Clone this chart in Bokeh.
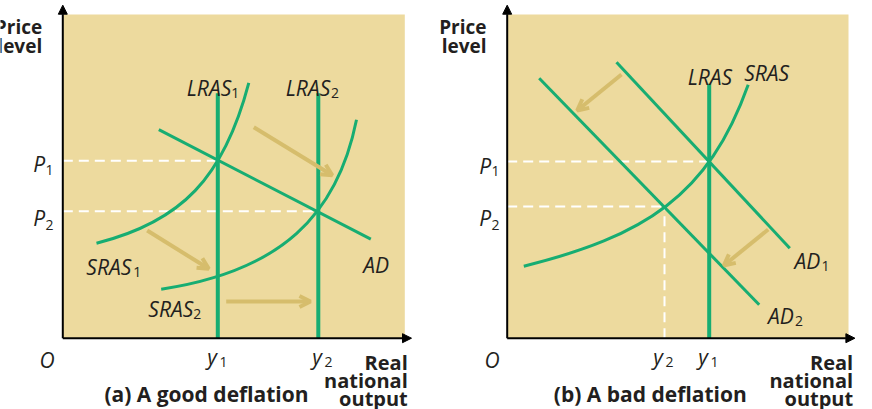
from bokeh.plotting import figure
from bokeh.layouts import row
from bokeh.models import Range1d, Arrow, NormalHead, OpenHead, ColumnDataSource
from bokeh.core.properties import value
from bokeh.embed import file_html
from bokeh.resources import INLINE

# ---------------- data (x = real national output, y = price level, O = origin) ----
# Panel (a): a good deflation
a_y1, a_y2 = 155.0, 255.5
a_p1, a_p2 = 177.5, 127.0
a_lras_top = 245.0
a_ad_x = [96, 308]
a_ad_y = [208.5, 99]
# SRAS curves as cubic Bezier: start, control 1, control 2, end
a_sras1_x = [33.7, 118.7, 161.0, 186.0]
a_sras1_y = [95.0, 116.3, 160.4, 255.4]
a_sras2_x = [98.4, 218.4, 274.7, 293.7]
a_sras2_y = [49.0, 67.0, 123.4, 218.4]
a_arrow_x0 = [191.0, 84.4, 163.4]
a_arrow_y0 = [211.0, 107.7, 36.7]
a_arrow_x1 = [269.5, 146.0, 247.7]
a_arrow_y1 = [163.0, 69.4, 36.7]

# Panel (b): a bad deflation
b_y1, b_y2 = 202.0, 157.3
b_p1, b_p2 = 176.7, 131.7
b_lras_top = 254.4
b_ad1_x = [109.3, 282.6]
b_ad1_y = [276.0, 90.0]
b_ad2_x = [32.0, 252.0]
b_ad2_y = [260.0, 33.4]
b_sras_x = [16.6, 136.6, 201.0, 241.0]
b_sras_y = [72.0, 102.0, 141.4, 253.4]
b_arrow_x0 = [114.3, 261.0]
b_arrow_y0 = [263.7, 108.7]
b_arrow_x1 = [70.0, 216.6]
b_arrow_y1 = [227.7, 72.7]

# ---------------- style ----------------
TAN_BG = "#EDDA9E"
GREEN = "#17AD72"
ARROW = "#D6BD6C"
INK = "#231F20"
FONT = value("Open Sans")

W, H = 436, 409
OY = 337.7


def make_panel(ox, frame_w):
    p = figure(width=W, height=H,
               x_range=Range1d(-ox, W - ox), y_range=Range1d(OY - H, OY),
               output_backend="svg", toolbar_location=None,
               x_axis_location=None, y_axis_location=None,
               min_border=0, outline_line_color=None,
               background_fill_color="white", border_fill_color="white")
    p.grid.visible = False
    p.quad(left=[0], right=[frame_w], bottom=[0], top=[323.7],
           fill_color=TAN_BG, line_color=None)
    return p


def bez(p, xs, ys):
    p.bezier(x0=[xs[0]], y0=[ys[0]], cx0=[xs[1]], cy0=[ys[1]],
             cx1=[xs[2]], cy1=[ys[2]], x1=[xs[3]], y1=[ys[3]],
             line_color=GREEN, line_width=3)


def axes(p, xmax):
    p.add_layout(Arrow(end=NormalHead(size=9, fill_color="black", line_color="black"),
                       x_start=0, y_start=0, x_end=0, y_end=333,
                       line_color="black", line_width=2))
    p.add_layout(Arrow(end=NormalHead(size=9, fill_color="black", line_color="black"),
                       x_start=0, y_start=0, x_end=xmax, y_end=0,
                       line_color="black", line_width=2))


def arrows(p, x0, y0, x1, y1):
    src = ColumnDataSource(dict(x0=x0, y0=y0, x1=x1, y1=y1))
    p.add_layout(Arrow(end=OpenHead(size=11, line_color=ARROW, line_width=4),
                       x_start="x0", y_start="y0", x_end="x1", y_end="y1",
                       source=src, line_color=ARROW, line_width=4))


def txt(p, items, size, style, align):
    xs, ys, ts = zip(*items)
    p.text(x=list(xs), y=list(ys), text=list(ts), text_font=FONT,
           text_font_style=style, text_font_size=size, text_color=INK,
           text_baseline="alphabetic", text_align=align)


# ---------------- panel (a) ----------------
pa = make_panel(62.3, 342.0)
pa.segment(x0=[0, 0], y0=[a_p1, a_p2], x1=[a_y1, a_y2], y1=[a_p1, a_p2],
           line_color="white", line_width=2, line_dash="10 6")
pa.line(a_ad_x, a_ad_y, line_color=GREEN, line_width=3)
bez(pa, a_sras1_x, a_sras1_y)
bez(pa, a_sras2_x, a_sras2_y)
pa.segment(x0=[a_y1, a_y2], y0=[0, 0], x1=[a_y1, a_y2], y1=[a_lras_top, a_lras_top],
           line_color=GREEN, line_width=4)
arrows(pa, a_arrow_x0, a_arrow_y0, a_arrow_x1, a_arrow_y1)
axes(pa, 348.7)
txt(pa, [(124.0, 250.2, "LRAS"), (223.0, 250.2, "LRAS"), (23.5, 71.0, "SRAS"),
         (85.5, 29.4, "SRAS"), (300.4, 73.7, "AD"), (-29.6, 174.4, "P"),
         (-29.6, 120.7, "P"), (-23.3, -21.3, "O"), (144.4, -19.0, "y"),
         (249.4, -19.0, "y")], "21px", "italic", "left")
txt(pa, [(168.5, 245.7, "1"), (268.2, 245.7, "2"), (70.5, 66.0, "1"),
         (130.5, 24.4, "2"), (-17.3, 168.7, "1"), (-17.3, 113.7, "2"),
         (156.7, -24.0, "1"), (261.7, -24.0, "2")], "14px", "normal", "left")
txt(pa, [(345.0, -24.3, "Real"), (345.0, -42.5, "national"),
         (345.0, -60.3, "output")], "20px", "bold", "right")
txt(pa, [(-20.6, 311.0, "Price"), (-20.6, 292.7, "level")], "19px", "bold", "right")
txt(pa, [(143.7, -55.6, "(a) A good deflation")], "21px", "bold", "center")

# ---------------- panel (b) ----------------
pb = make_panel(70.7, 341.3)
pb.segment(x0=[0, 0, b_y2], y0=[b_p1, b_p2, 0], x1=[b_y1, b_y2, b_y2], y1=[b_p1, b_p2, b_p2],
           line_color="white", line_width=2, line_dash="10 6")
pb.line(b_ad1_x, b_ad1_y, line_color=GREEN, line_width=3)
pb.line(b_ad2_x, b_ad2_y, line_color=GREEN, line_width=3)
bez(pb, b_sras_x, b_sras_y)
pb.segment(x0=[b_y1], y0=[0], x1=[b_y1], y1=[b_lras_top], line_color=GREEN, line_width=4)
arrows(pb, b_arrow_x0, b_arrow_y0, b_arrow_x1, b_arrow_y1)
axes(pb, 347.7)
txt(pb, [(180.5, 261.0, "LRAS"), (237.0, 265.0, "SRAS"), (287.4, 77.7, "AD"),
         (260.8, 22.7, "AD"), (-28.0, 172.7, "P"), (-28.0, 120.7, "P"),
         (-22.7, -21.3, "O"), (146.0, -19.0, "y"), (191.0, -19.0, "y")],
    "21px", "italic", "left")
txt(pb, [(314.3, 72.7, "1"), (287.8, 17.7, "2"), (-15.7, 167.7, "1"),
         (-15.7, 113.7, "2"), (158.3, -24.0, "2"), (203.3, -24.0, "1")],
    "14px", "normal", "left")
txt(pb, [(346.0, -24.3, "Real"), (346.0, -42.5, "national"),
         (346.0, -60.3, "output")], "20px", "bold", "right")
txt(pb, [(-20.7, 311.0, "Price"), (-20.7, 292.7, "level")], "19px", "bold", "right")
txt(pb, [(143.1, -55.6, "(b) A bad deflation")], "21px", "bold", "center")

layout = row(pa, pb)
open("out.html", "w").write(file_html(layout, INLINE))
